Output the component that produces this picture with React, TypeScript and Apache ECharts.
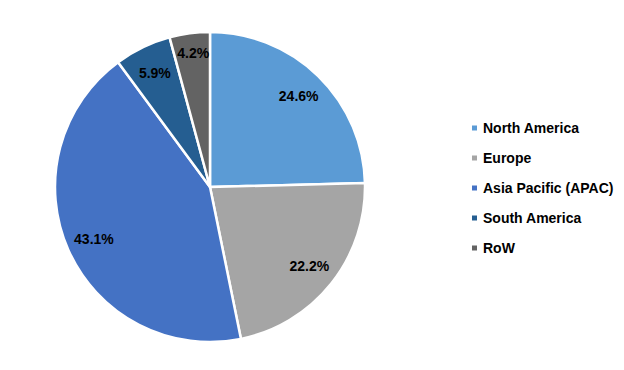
import React, { useEffect, useRef } from "react";
import * as echarts from "echarts";

const regions = ["North America", "Europe", "Asia Pacific (APAC)", "South America", "RoW"];
const shares = [24.6, 22.2, 43.1, 5.9, 4.2];
const colors = ["#5B9BD5", "#A5A5A5", "#4472C4", "#255E91", "#636363"];

export default function App() {
  const ref = useRef<HTMLDivElement>(null);
  useEffect(() => {
    if (!ref.current) return;
    const chart = echarts.init(ref.current, null, { renderer: "svg" });
    const data = regions.map((name, i) => ({ name, value: shares[i], itemStyle: { color: colors[i] } }));
    chart.setOption({
      animation: false,
      backgroundColor: "#ffffff",
      legend: {
        orient: "vertical",
        left: 465,
        top: 115,
        icon: "rect",
        itemWidth: 7,
        itemHeight: 7,
        itemGap: 14,
        selectedMode: false,
        data: regions,
        textStyle: { fontFamily: "Liberation Sans", fontWeight: "bold", fontSize: 14, color: "#000", lineHeight: 16 },
      },
      series: [
        {
          type: "pie",
          center: [210, 187],
          radius: [0, 155],
          startAngle: 90,
          clockwise: true,
          data,
          label: { show: false },
          labelLine: { show: false },
          itemStyle: { borderColor: "#ffffff", borderWidth: 2.5 },
          emphasis: { disabled: true },
        },
        {
          type: "pie",
          center: [210, 187],
          radius: [93, 155],
          startAngle: 90,
          clockwise: true,
          silent: true,
          legendHoverLink: false,
          data: regions.map((name, i) => ({
            name: name + " ",
            value: shares[i],
            label: i === 4 ? { offset: [0, -8] } : undefined,
          })),
          itemStyle: { color: "rgba(0,0,0,0)" },
          label: {
            show: true,
            position: "inside",
            formatter: (p: any) => p.value.toFixed(1) + "%",
            fontFamily: "Liberation Sans",
            fontWeight: "bold",
            fontSize: 14,
            color: "#000",
          },
          labelLine: { show: false },
          emphasis: { disabled: true },
        },
      ],
    });
    return () => chart.dispose();
  }, []);
  return <div ref={ref} style={{ position: "fixed", left: 0, top: 0, width: 624, height: 370 }} />;
}
